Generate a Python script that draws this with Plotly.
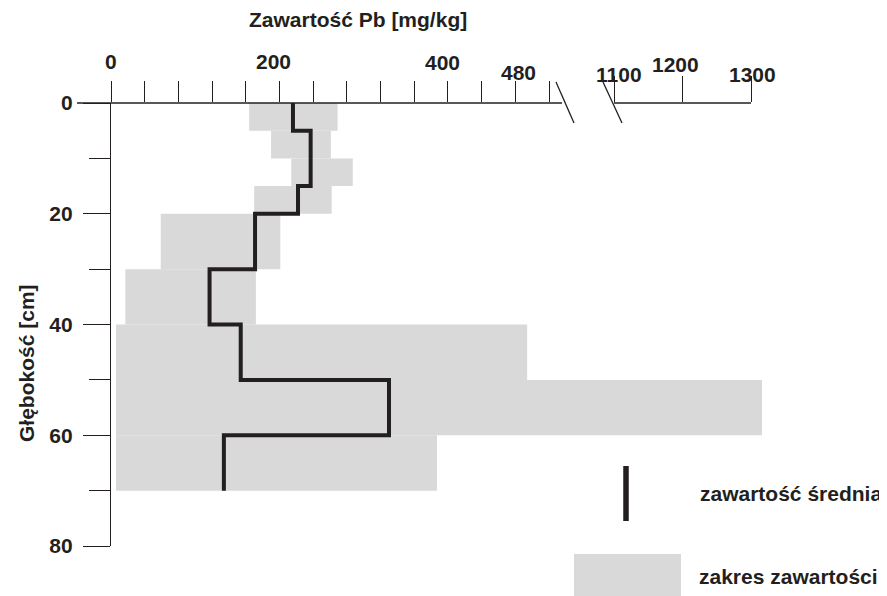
import plotly.graph_objects as go

# --- dane: zawartość Pb w profilu glebowym ---
depth_top = [0, 5, 10, 15, 20, 30, 40, 50, 60]
depth_bottom = [5, 10, 15, 20, 30, 40, 50, 60, 70]
pb_min = [164, 190, 214, 170, 59, 17, 6, 6, 6]
pb_max = [269, 261, 287, 262, 201, 172, 494, 1316, 387]
pb_mean = [216, 237, 237, 222, 171, 117, 154, 330, 134]

# osie (oś X przerwana)
left_ticks = [0, 40, 80, 120, 160, 200, 240, 280, 320, 360, 400, 440, 480, 520]
left_labels = [0, 200, 400, 480]
right_ticks = [1100, 1200, 1300]
right_labels = [1100, 1200, 1300]
depth_ticks = [0, 20, 40, 60, 80]

INK = '#231f20'
GREY = '#d9d9d9'
FONT = dict(family='Liberation Sans, Arial, sans-serif', size=21, color=INK, weight='bold')

# geometria przerwy osi
L_RANGE = [0, 552]
R_RANGE = [1044.5, 1371.5]
SPLIT = 0.6749

# strona html ma 8px marginesu body - figura jest o tyle mniejsza
PAGE_PAD = 8

mids = [(a + b) / 2 for a, b in zip(depth_top, depth_bottom)]
widths = [b - a for a, b in zip(depth_top, depth_bottom)]
spans = [hi - lo for lo, hi in zip(pb_min, pb_max)]

fig = go.Figure()

# zakres zawartości - na obu częściach osi, przycięty do zakresu
for xa in ['x', 'x2']:
    fig.add_trace(go.Bar(
        y=mids, x=spans, base=pb_min, width=widths, orientation='h',
        marker=dict(color=GREY, line=dict(width=0)),
        xaxis=xa, yaxis='y', hoverinfo='skip'
    ))

# zawartość średnia - linia schodkowa
step_x, step_y = [], []
for m, a, b in zip(pb_mean, depth_top, depth_bottom):
    step_x += [m, m]
    step_y += [a, b]
fig.add_trace(go.Scatter(
    x=step_x, y=step_y, mode='lines',
    line=dict(color=INK, width=4), xaxis='x', yaxis='y', hoverinfo='skip'
))


# pozycje w pikselach strony -> współrzędne paper (obszar wykresu 111..800 x 103..546)
def px_x(p):
    return (p - 111) / 689


def px_y(p):
    return (546 - p) / 443


shapes = [
    # linie osi X z przerwą
    dict(type='line', xref='paper', yref='paper', x0=px_x(77), x1=px_x(562), y0=1, y1=1),
    dict(type='line', xref='paper', yref='paper', x0=px_x(614), x1=px_x(751), y0=1, y1=1),
    dict(type='line', xref='paper', yref='paper', x0=px_x(556), x1=px_x(574), y0=px_y(82), y1=px_y(123)),
    dict(type='line', xref='paper', yref='paper', x0=px_x(603), x1=px_x(622), y0=px_y(82), y1=px_y(123)),
]
for s in shapes:
    s['line'] = dict(color=INK, width=1.3)

# legenda
shapes.append(dict(type='line', xref='paper', yref='paper',
                   x0=px_x(626), x1=px_x(626), y0=px_y(466), y1=px_y(521),
                   line=dict(color=INK, width=5.5)))
shapes.append(dict(type='rect', xref='paper', yref='paper',
                   x0=px_x(574), x1=px_x(681), y0=px_y(554), y1=px_y(598),
                   fillcolor=GREY, line=dict(width=0)))

txt = dict(showarrow=False, font=FONT, xref='paper', yref='paper',
           xanchor='center', yanchor='middle')
annotations = [
    dict(text='Zawartość Pb [mg/kg]', x=px_x(358), y=px_y(20), **txt),
    dict(text='Głębokość [cm]', textangle=-90, x=px_x(27), y=px_y(363), **txt),
    dict(txt, text='zawartość średnia', xanchor='left', x=px_x(698), y=px_y(493)),
    dict(txt, text='zakres zawartości', xanchor='left', x=px_x(697), y=px_y(576)),
]

# etykiety osi X (rysowane nierówno, jak w oryginale)
lift = {0: (0, 42), 200: (-6, 42), 400: (-5, 41), 480: (3, 31),
        1100: (5, 29), 1200: (-7, 39), 1300: (1, 29)}
for ref, labels in (('x', left_labels), ('x2', right_labels)):
    for v in labels:
        dx, dy = lift[v]
        annotations.append(dict(txt, text=str(v), xref=ref, x=v, y=1,
                                xshift=dx, yshift=dy))

axis_common = dict(side='top', showgrid=False, zeroline=False, showline=False,
                   ticks='outside', tickcolor=INK, tickwidth=1.3,
                   showticklabels=False, anchor='y', fixedrange=True)

fig.update_layout(
    width=887 - PAGE_PAD, height=596 - PAGE_PAD,
    margin=dict(l=111 - PAGE_PAD, r=87, t=103 - PAGE_PAD, b=50),
    paper_bgcolor='white', plot_bgcolor='white',
    showlegend=False, barmode='overlay',
    xaxis=dict(domain=[0, SPLIT], range=L_RANGE, tickvals=left_ticks,
               ticklen=21, **axis_common),
    xaxis2=dict(domain=[SPLIT, 1], range=R_RANGE, tickvals=right_ticks,
                ticklen=26, **axis_common),
    yaxis=dict(range=[80, 0], domain=[0, 1], tickvals=depth_ticks,
               ticktext=[str(v) for v in depth_ticks],
               showgrid=False, zeroline=False, showline=True,
               linecolor=INK, linewidth=1.3, ticks='outside', ticklen=27,
               tickcolor=INK, tickwidth=1.3, tickfont=FONT, ticklabelstandoff=6,
               minor=dict(dtick=10, tick0=0, ticks='outside', ticklen=21,
                          tickcolor=INK, tickwidth=1.3),
               fixedrange=True),
    shapes=shapes,
    annotations=annotations,
)

fig.write_html("out.html")
